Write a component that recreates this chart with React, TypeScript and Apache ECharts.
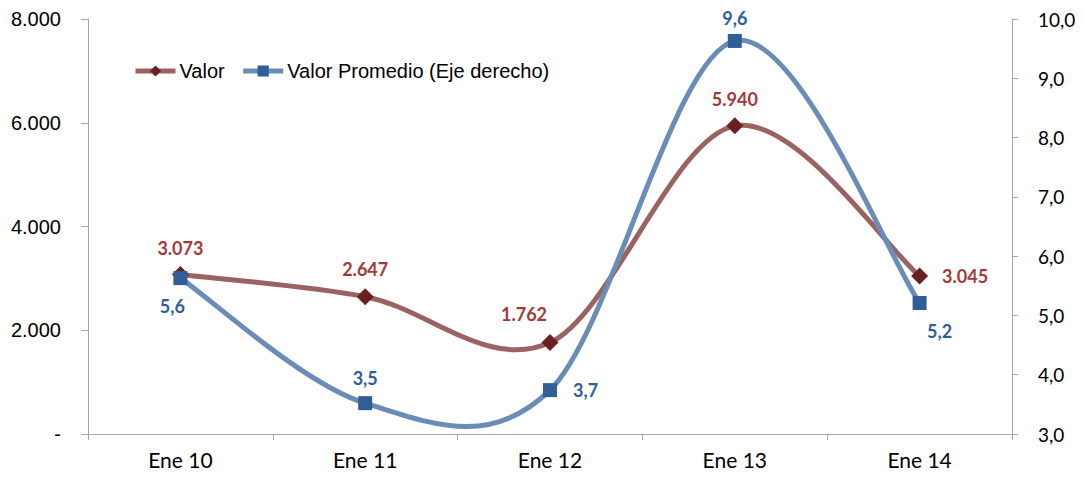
import React, { useEffect, useRef } from "react";
import * as echarts from "echarts";

const categories = ["Ene 10", "Ene 11", "Ene 12", "Ene 13", "Ene 14"];
const valor = [3073, 2647, 1762, 5940, 3045];
const promedio = [5.63, 3.52, 3.74, 9.63, 5.21];
const valorLabelPos = ["top", "top", "top", "top", "right"];
const valorLabelOffset = [[0, 0], [0, 0], [-26, 0], [0, 0], [0, 0]];
const valorLabelDist = [9, 10, 11, 9, 14];
const promLabelPos = ["bottom", "top", "right", "top", "bottom"];
const promLabelOffset = [[-8, 0], [0, 0], [0, 0], [0, 0], [20, 0]];
const promLabelDist = [12, 9, 16, 7, 12];

const fmtThousands = (v: number) =>
  v === 0 ? "-" : Math.round(v).toString().replace(/\B(?=(\d{3})+(?!\d))/g, ".");
const fmtDec = (v: number) => v.toFixed(1).replace(".", ",");

// Excel-like smoothing (Catmull-Rom style bezier segments) through axis coords
function makeCurve(values: number[], color: string) {
  return (params: any, api: any) => {
    if (params.dataIndex !== 0) return null;
    const pts = values.map((v, i) => api.coord([i, v]));
    const n = pts.length;
    const P = (i: number) => pts[Math.max(0, Math.min(n - 1, i))];
    const children: any[] = [];
    for (let i = 0; i < n - 1; i++) {
      const p0 = P(i - 1), p1 = P(i), p2 = P(i + 1), p3 = P(i + 2);
      children.push({
        type: "bezierCurve",
        shape: {
          x1: p1[0], y1: p1[1],
          x2: p2[0], y2: p2[1],
          cpx1: p1[0] + (p2[0] - p0[0]) / 6,
          cpy1: p1[1] + (p2[1] - p0[1]) / 6,
          cpx2: p2[0] - (p3[0] - p1[0]) / 6,
          cpy2: p2[1] - (p3[1] - p1[1]) / 6,
        },
        style: { stroke: color, lineWidth: 5, fill: "none", lineCap: "round" },
      });
    }
    return { type: "group", children };
  };
}

export default function App() {
  const ref = useRef<HTMLDivElement>(null);
  useEffect(() => {
    if (!ref.current) return;
    const chart = echarts.init(ref.current, undefined, { renderer: "svg" });
    const labelFont = "Lato, 'Open Sans', sans-serif";
    const arial = "'Liberation Sans', Arial, sans-serif";
    const valorLine = "#9b6262";
    const promLine = "#6a8cb6";
    chart.setOption({
      animation: false,
      backgroundColor: "#ffffff",
      grid: { left: 88, right: 72, top: 19, bottom: 43, containLabel: false },
      legend: {
        left: 133,
        top: 61,
        padding: 0,
        itemWidth: 40,
        itemHeight: 14,
        itemGap: 16,
        textStyle: { fontFamily: arial, fontSize: 20, color: "#000", padding: [0, 0, 0, -1] },
        data: [
          { name: "Valor", lineStyle: { color: valorLine, width: 5, opacity: 1 } },
          { name: "Valor Promedio (Eje derecho)", lineStyle: { color: promLine, width: 5, opacity: 1 } },
        ],
      },
      xAxis: {
        type: "category",
        data: categories,
        boundaryGap: true,
        axisLine: { lineStyle: { color: "#a6a6a6", width: 1 } },
        axisTick: { show: true, length: 6, lineStyle: { color: "#a6a6a6" } },
        axisLabel: { fontFamily: labelFont, fontSize: 21, color: "#000", margin: 25, verticalAlign: "middle", lineHeight: 21 },
      },
      yAxis: [
        {
          type: "value",
          min: 0,
          max: 8000,
          interval: 2000,
          position: "left",
          splitLine: { show: false },
          axisLine: { show: true, lineStyle: { color: "#a6a6a6" } },
          axisTick: { show: true, inside: false, length: 7, lineStyle: { color: "#a6a6a6" } },
          axisLabel: {
            fontFamily: arial,
            fontSize: 20,
            color: "#000",
            margin: 27,
            formatter: (v: number) => fmtThousands(v),
          },
        },
        {
          type: "value",
          min: 3,
          max: 10,
          interval: 1,
          position: "right",
          splitLine: { show: false },
          axisLine: { show: true, lineStyle: { color: "#a6a6a6" } },
          axisTick: { show: true, length: 6, lineStyle: { color: "#a6a6a6" } },
          axisLabel: {
            fontFamily: labelFont,
            fontSize: 19,
            color: "#000",
            margin: 26,
            formatter: (v: number) => fmtDec(v),
          },
        },
      ],
      series: [
        {
          name: "valorCurve",
          type: "custom",
          yAxisIndex: 0,
          renderItem: makeCurve(valor, valorLine),
          data: valor.map((v, i) => [i, v]),
          encode: { x: 0, y: 1 },
          silent: true,
          z: 1,
        },
        {
          name: "promCurve",
          type: "custom",
          yAxisIndex: 1,
          renderItem: makeCurve(promedio, promLine),
          data: promedio.map((v, i) => [i, v]),
          encode: { x: 0, y: 1 },
          silent: true,
          z: 1,
        },
        {
          name: "Valor",
          type: "line",
          yAxisIndex: 0,
          symbol: "diamond",
          symbolSize: 17,
          lineStyle: { color: valorLine, width: 5, opacity: 0 },
          itemStyle: { color: "#6a2020" },
          data: valor.map((v, i) => ({
            value: v,
            label: { position: valorLabelPos[i], offset: valorLabelOffset[i], distance: valorLabelDist[i] },
          })),
          label: {
            show: true,
            fontFamily: labelFont,
            fontWeight: "bold",
            fontSize: 18,
            color: "#a33a3a",
            formatter: (p: any) => fmtThousands(p.value),
          },
          z: 2,
        },
        {
          name: "Valor Promedio (Eje derecho)",
          type: "line",
          yAxisIndex: 1,
          symbol: "rect",
          symbolSize: 14,
          lineStyle: { color: promLine, width: 5, opacity: 0 },
          itemStyle: { color: "#2f5f96" },
          data: promedio.map((v, i) => ({
            value: v,
            label: { position: promLabelPos[i], offset: promLabelOffset[i], distance: promLabelDist[i] },
          })),
          label: {
            show: true,
            fontFamily: labelFont,
            fontWeight: "bold",
            fontSize: 18,
            color: "#2f5f96",
            formatter: (p: any) => fmtDec(p.value),
          },
          z: 3,
        },
      ],
    });
    return () => chart.dispose();
  }, []);
  return <div ref={ref} style={{ width: 1084, height: 477, margin: -8 }} />;
}
